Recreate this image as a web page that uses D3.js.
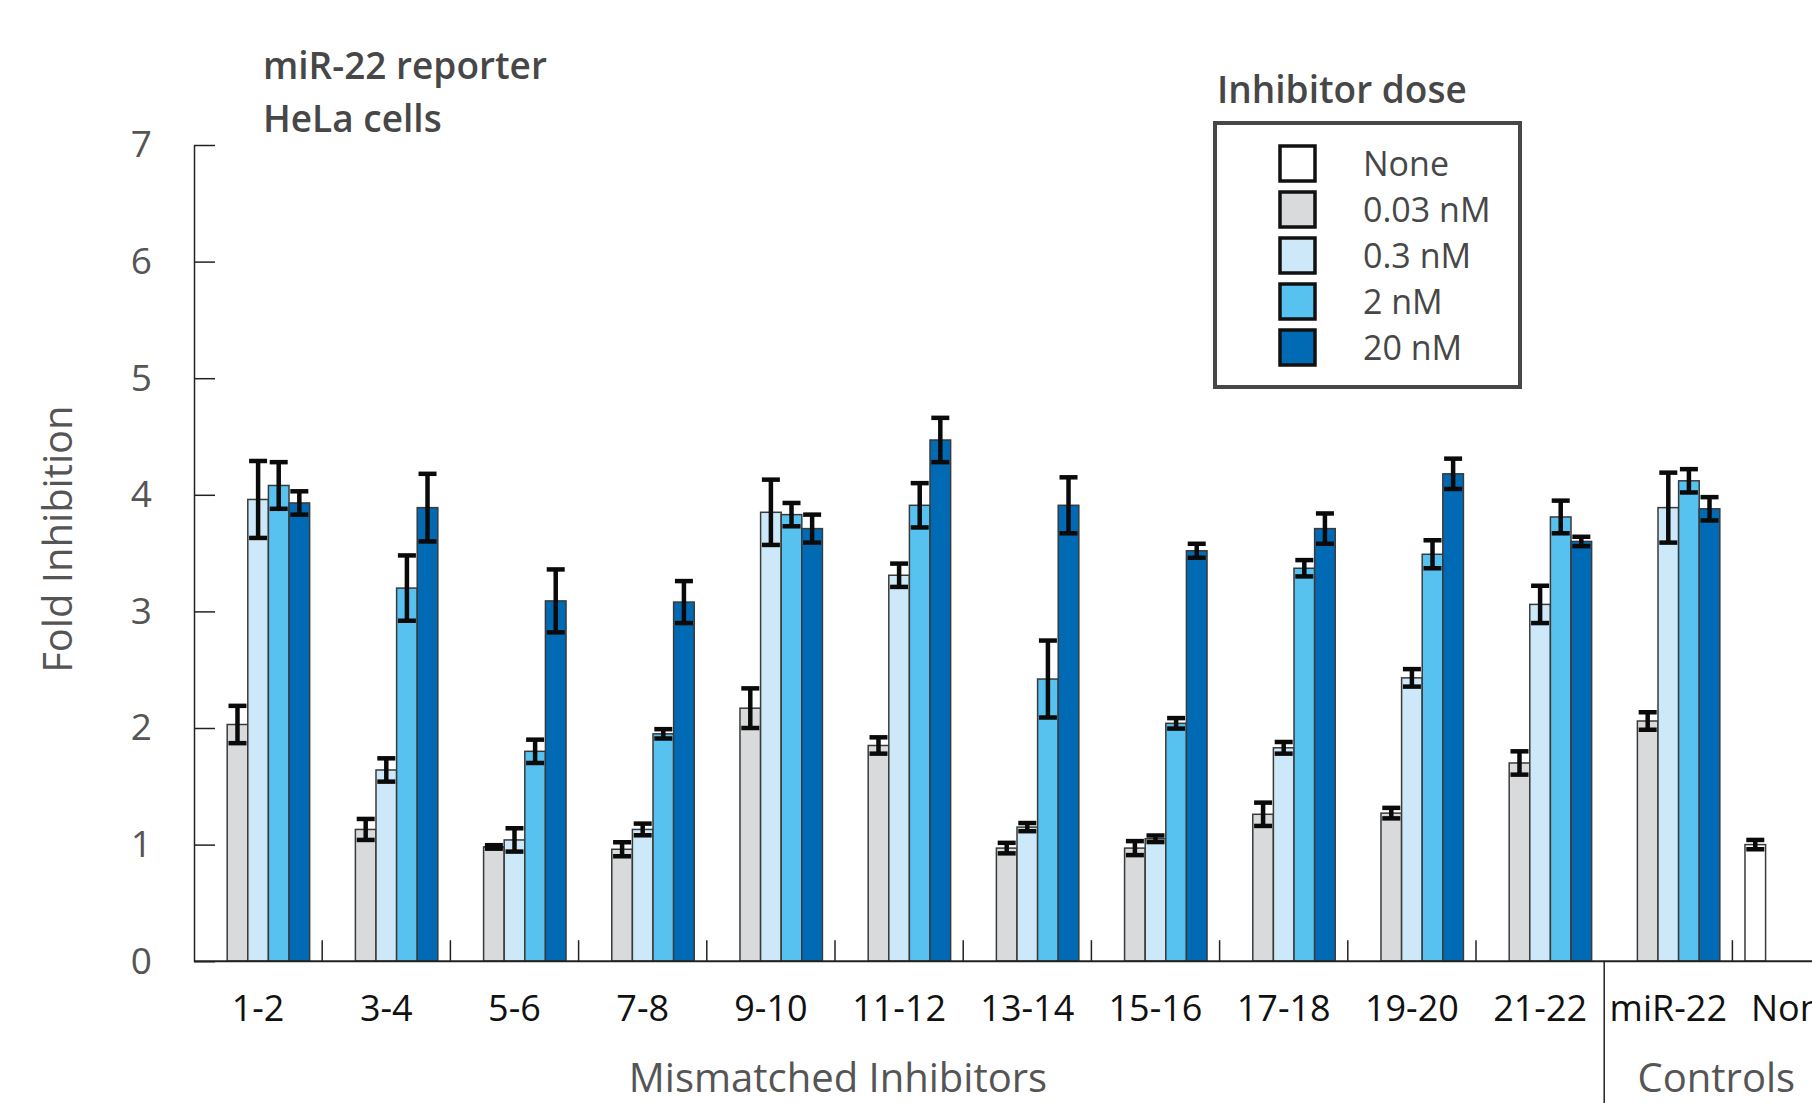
<html>
<head>
<script src="https://d3js.org/d3.v7.min.js"></script>
<style>
  body { margin: 0; background: #fff; }
  text { font-family: "Open Sans", "Noto Sans", sans-serif; }
  .y.axis .domain { stroke: #222; stroke-width: 1.5; }
  .y.axis .tick line { stroke: #222; stroke-width: 1.5; }
  .y.axis .tick text { fill: #555; font-size: 37px; }
</style>
</head>
<body>
<svg id="chart" width="1812" height="1103"></svg>
<script>
// categories along the x axis
const categories = ["1-2", "3-4", "5-6", "7-8", "9-10", "11-12", "13-14", "15-16", "17-18", "19-20", "21-22", "miR-22", "None"];
const doses = ["None", "0.03 nM", "0.3 nM", "2 nM", "20 nM"];
const doseColors = ["#ffffff", "#d9dadc", "#cde8f8", "#57c2ef", "#006ab4"];
const yTicks = [0, 1, 2, 3, 4, 5, 6, 7];

// fold inhibition per dose (null = no bar), with error bar half-widths
const valNone = [null, null, null, null, null, null, null, null, null, null, null, null, 1.00];
const errNone = [null, null, null, null, null, null, null, null, null, null, null, null, 0.04];
const val003 = [2.03, 1.13, 0.98, 0.96, 2.17, 1.85, 0.97, 0.97, 1.26, 1.27, 1.70, 2.06, null];
const err003 = [0.16, 0.09, 0.015, 0.06, 0.17, 0.07, 0.045, 0.06, 0.10, 0.045, 0.10, 0.075, null];
const val03 = [3.96, 1.64, 1.04, 1.13, 3.85, 3.31, 1.15, 1.05, 1.83, 2.43, 3.06, 3.89, null];
const err03 = [0.33, 0.10, 0.10, 0.05, 0.28, 0.10, 0.035, 0.028, 0.05, 0.075, 0.16, 0.30, null];
const val2 = [4.08, 3.20, 1.80, 1.95, 3.83, 3.91, 2.42, 2.04, 3.37, 3.49, 3.81, 4.12, null];
const err2 = [0.20, 0.28, 0.10, 0.04, 0.10, 0.19, 0.33, 0.045, 0.07, 0.12, 0.14, 0.10, null];
const val20 = [3.93, 3.89, 3.09, 3.08, 3.71, 4.47, 3.91, 3.52, 3.71, 4.18, 3.60, 3.88, null];
const err20 = [0.10, 0.29, 0.27, 0.18, 0.12, 0.19, 0.24, 0.06, 0.13, 0.13, 0.04, 0.10, null];

const seriesVals = [valNone, val003, val03, val2, val20];
const seriesErrs = [errNone, err003, err03, err2, err20];

const svg = d3.select("svg#chart");
const x0 = 194, yBase = 961.2, yTop = 145, step = 128.2;

const xScale = d3.scaleBand().domain(categories).range([x0, x0 + step * categories.length]).padding(0);
const doseScale = d3.scaleBand().domain(doses).range([0, xScale.bandwidth()]).paddingInner(0).paddingOuter(0.61);
const yScale = d3.scaleLinear().domain([0, 7]).range([yBase, yTop]);

// flat table of bars
let bars = [];
categories.forEach((c, i) => {
  doses.forEach((d, j) => {
    if (seriesVals[j][i] != null) {
      bars.push({cat: c, dose: d, color: doseColors[j], v: seriesVals[j][i], e: seriesErrs[j][i]});
    }
  });
});

// y axis
svg.append("g")
  .attr("class", "y axis")
  .attr("transform", `translate(${x0},0)`)
  .call(d3.axisLeft(yScale).tickValues(yTicks).tickFormat(d3.format("d"))
    .tickSizeInner(-21).tickSizeOuter(0).tickPadding(42));

// bars
svg.append("g").selectAll("rect").data(bars).join("rect")
  .attr("x", d => xScale(d.cat) + doseScale(d.dose))
  .attr("y", d => yScale(d.v))
  .attr("width", doseScale.bandwidth())
  .attr("height", d => yBase - yScale(d.v))
  .attr("fill", d => d.color)
  .attr("stroke", "#3a3a3a")
  .attr("stroke-width", 1.5);

// error bars
let errs = svg.append("g").selectAll("g").data(bars).join("g")
  .attr("stroke", "#0a0a0a")
  .attr("stroke-width", 4.5);
const cx = d => xScale(d.cat) + doseScale(d.dose) + doseScale.bandwidth() / 2;
errs.append("line")
  .attr("x1", cx).attr("x2", cx)
  .attr("y1", d => yScale(d.v + d.e)).attr("y2", d => yScale(d.v - d.e));
errs.append("line")
  .attr("x1", d => cx(d) - 9).attr("x2", d => cx(d) + 9)
  .attr("y1", d => yScale(d.v + d.e)).attr("y2", d => yScale(d.v + d.e));
errs.append("line")
  .attr("x1", d => cx(d) - 9).attr("x2", d => cx(d) + 9)
  .attr("y1", d => yScale(d.v - d.e)).attr("y2", d => yScale(d.v - d.e));

// x axis baseline, separator ticks and labels
svg.append("line")
  .attr("x1", x0).attr("x2", 1812)
  .attr("y1", yBase).attr("y2", yBase)
  .attr("stroke", "#222").attr("stroke-width", 2);

svg.append("g").selectAll("line").data(categories.slice(1)).join("line")
  .attr("x1", d => xScale(d)).attr("x2", d => xScale(d))
  .attr("y1", yBase).attr("y2", d => d == "miR-22" ? 1103 : yBase - 21)
  .attr("stroke", "#222").attr("stroke-width", 1.5);

svg.append("g").selectAll("text").data(categories).join("text")
  .attr("x", d => xScale(d) + xScale.bandwidth() / 2)
  .attr("y", 1021)
  .attr("text-anchor", "middle")
  .attr("font-size", 36)
  .attr("fill", "#111")
  .text(d => d);

svg.append("text")
  .attr("x", xScale("11-12") + 3).attr("y", 1092)
  .attr("text-anchor", "middle").attr("font-size", 40).attr("fill", "#555")
  .text("Mismatched Inhibitors");

svg.append("text")
  .attr("x", xScale("miR-22") + step * 0.875).attr("y", 1092)
  .attr("text-anchor", "middle").attr("font-size", 40).attr("fill", "#555")
  .text("Controls");

svg.append("text")
  .attr("transform", `translate(72,${yScale(3.62)}) rotate(-90)`)
  .attr("text-anchor", "middle").attr("font-size", 40).attr("fill", "#555")
  .text("Fold Inhibition");

// title
svg.append("text").attr("x", 263).attr("y", 79)
  .attr("font-size", 37).attr("font-weight", 600).attr("fill", "#474747")
  .text("miR-22 reporter");
svg.append("text").attr("x", 263).attr("y", 132)
  .attr("font-size", 37).attr("font-weight", 600).attr("fill", "#474747")
  .text("HeLa cells");

// legend
svg.append("text").attr("x", 1217).attr("y", 103)
  .attr("font-size", 37).attr("font-weight", 600).attr("fill", "#474747")
  .text("Inhibitor dose");
svg.append("rect")
  .attr("x", 1215).attr("y", 123).attr("width", 305).attr("height", 264)
  .attr("fill", "none").attr("stroke", "#474747").attr("stroke-width", 4);

let legend = svg.append("g").selectAll("g").data(doses).join("g")
  .attr("transform", (d, i) => `translate(1280,${146 + i * 46})`);
legend.append("rect")
  .attr("width", 35).attr("height", 35)
  .attr("fill", (d, i) => doseColors[i])
  .attr("stroke", "#111").attr("stroke-width", 3.5);
legend.append("text")
  .attr("x", 83).attr("y", 30)
  .attr("font-size", 34).attr("font-weight", 500).attr("fill", "#474747")
  .text(d => d);
</script>
</body>
</html>
